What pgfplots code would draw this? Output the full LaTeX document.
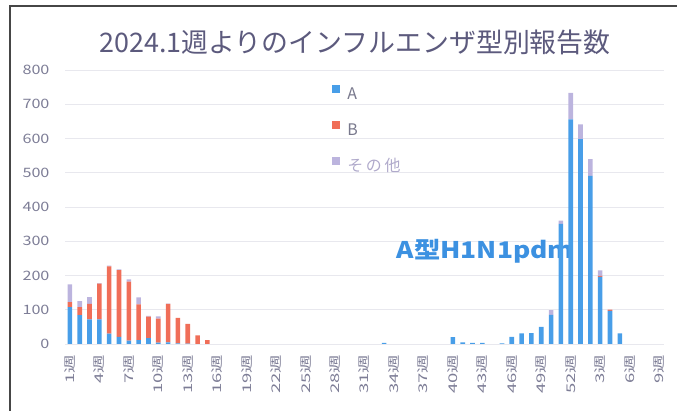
\documentclass[border=0pt]{standalone}
\usepackage{pgfplots}
\usepackage{pgfplotstable}
\pgfplotsset{compat=1.18}
\usepackage{fontspec}
\setmainfont{Noto Sans CJK JP}
\newfontfamily\ytickfont[FakeStretch=1.25]{Noto Sans CJK JP}
\newfontfamily\xtickfont[FakeStretch=1.55]{Noto Sans CJK JP}
\newfontfamily\annfont[FakeStretch=1.15]{Noto Sans CJK JP}
\definecolor{cA}{RGB}{72,158,232}
\definecolor{cB}{RGB}{240,110,88}
\definecolor{cO}{RGB}{188,180,222}
\definecolor{titlec}{RGB}{92,90,125}
\definecolor{tickc}{RGB}{125,125,150}
\definecolor{legc}{RGB}{120,120,140}
\definecolor{annc}{RGB}{60,145,225}
\definecolor{gridc}{RGB}{232,232,238}
\definecolor{framec}{RGB}{70,70,70}

\pgfplotstableread{
x A B O
0 108 14 52
1 84 24 17
2 72 45 20
3 72 104 2
4 30 197 2
5 21 195 2
6 10 172 7
7 11 105 20
8 17 63 2
9 4 70 7
10 5 112 1
11 2 74 0
12 1 58 0
13 0 25 0
14 0 11 0
15 0 0 0
16 0 0 0
17 0 0 0
18 0 0 0
19 0 0 0
20 0 0 0
21 0 0 0
22 0 0 0
23 0 0 0
24 0 0 0
25 0 0 0
26 0 0 0
27 0 0 0
28 0 0 0
29 0 0 0
30 0 0 0
31 0 0 0
32 3 0 0
33 0 0 0
34 0 0 0
35 0 0 0
36 0 0 0
37 0 0 0
38 0 0 0
39 20 0 0
40 5 0 0
41 3 0 0
42 3 0 0
43 0 0 0
44 2 0 0
45 21 0 0
46 31 0 0
47 32 0 0
48 50 0 0
49 85 0 14
50 351 0 9
51 656 0 77
52 598 0 43
53 491 0 49
54 196 3 16
55 97 3 0
56 31 0 0
57 0 0 0
58 0 0 0
59 0 0 0
60 0 0 0
}\datatable

\begin{document}
\begin{tikzpicture}
\path[use as bounding box] (0,0) rectangle (677bp,411bp);
\draw[line width=1.5bp, framec] (10bp,0) -- (10bp,405bp) -- (677bp,405bp);
\node[font=\fontsize{27}{27}\selectfont, text=titlec] at (355bp,369bp) {2024.1週よりのインフルエンザ型別報告数};
\begin{axis}[
  at={(65bp,67bp)}, anchor=south west,
  scale only axis, width=599bp, height=274bp,
  xmin=-0.5, xmax=60.5, ymin=0, ymax=800,
  ybar stacked, bar width=0.47,
  xtick={0,3,...,60},
  xticklabels={1週,4週,7週,10週,13週,16週,19週,22週,25週,28週,31週,34週,37週,40週,43週,46週,49週,52週,3週,6週,9週},
  ytick={0,100,...,800},
  ymajorgrids, grid style={draw=gridc, line width=0.9bp},
  major tick length=0,
  axis line style={draw=none},
  /pgf/number format/assume math mode=true,
  yticklabel style={font=\ytickfont\fontsize{13}{13}\selectfont, text=tickc, xshift=-12bp},
  xticklabel style={yshift=-7bp, rotate=90, anchor=east, font=\xtickfont\fontsize{12}{12}\selectfont, text=tickc},
  legend cell align=left,
  legend image code/.code={\fill[#1,draw=none] (0bp,2bp) rectangle (8bp,10bp); \path (14bp,0bp);},
  legend style={at={(0.441,0.952)}, anchor=north west, draw=none, fill=none,
    font=\fontsize{16}{16}\selectfont, text=legc, row sep=17.5bp,
    nodes={inner sep=1bp, text height=12bp, text depth=3bp}},
]
\addplot[fill=cA, draw=none] table[x=x, y=A] {\datatable};
\addlegendentry{A}
\addplot[fill=cB, draw=none] table[x=x, y=B] {\datatable};
\addlegendentry{B}
\addplot[fill=cO, draw=none] table[x=x, y=O] {\datatable};
\addlegendentry{\textcolor{cO!80!gray}{そ\,の\,他}}
\node[font=\annfont\bfseries\fontsize{23}{23}\selectfont, text=annc] at (axis cs:42.3,272) {A型H1N1pdm};
\end{axis}
\end{tikzpicture}
\end{document}
